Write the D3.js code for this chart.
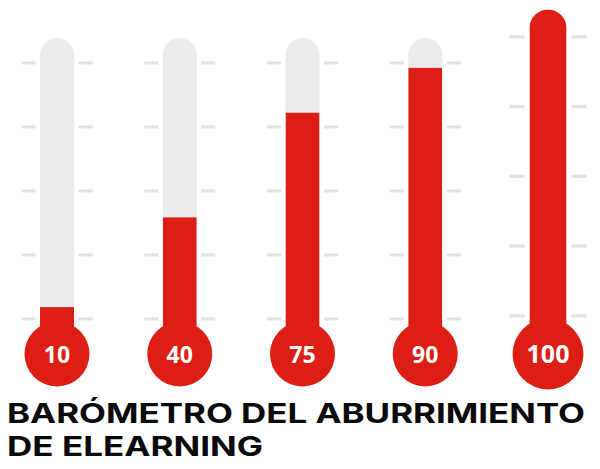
<!DOCTYPE html>
<html>
<head>
<meta charset="utf-8">
<script src="https://cdn.jsdelivr.net/npm/d3@7"></script>
<style>
  html, body { margin: 0; padding: 0; background: #ffffff; }
  svg { display: block; }
</style>
</head>
<body>
<script>
// ---- data ----
const categories = ["T1", "T2", "T3", "T4", "T5"];
const values = [10, 40, 75, 90, 100];
const valueLabels = ["10", "40", "75", "90", "100"];
const gradations = [1, 2, 3, 4, 5];
const titleLines = ["BARÓMETRO DEL ABURRIMIENTO", "DE ELEARNING"];

// ---- layout ----
const W = 600, H = 469;
const RED = "#dc1e14", GREY = "#ececec", TICK = "#e2e2e2";
const tubeTop = 38, bulbY = 354, bulbR = 32.5, tubeHalf = 17;

const svg = d3.select("body").append("svg").attr("width", W).attr("height", H);
const defs = svg.append("defs");

const x = d3.scalePoint().domain(categories).range([57, 548]);
const y = d3.scaleLinear().domain([0, 100]).range([337, 38]);
const gy = d3.scaleLinear().domain([1, 5]).range([319, 63]);
const maxV = d3.max(values);

const data = categories.map((c, i) => ({ c, v: values[i], label: valueLabels[i], i }));

const g = svg.selectAll("g.thermo").data(data).join("g")
  .attr("class", "thermo")
  .attr("transform", d => {
    const s = d.v >= maxV ? 1.09 : 1;
    return `translate(${x(d.c)},${bulbY}) scale(${s}) translate(0,${-bulbY})`;
  });

// graduation ticks
g.each(function () {
  const gg = d3.select(this);
  [-1, 1].forEach(side => {
    gg.selectAll(null).data(gradations).join("line")
      .attr("x1", side * 21.5).attr("x2", side * 35.5)
      .attr("y1", d => gy(d)).attr("y2", d => gy(d))
      .attr("stroke", TICK).attr("stroke-width", 3);
  });
});

// clip paths for tubes
data.forEach(d => {
  defs.append("clipPath").attr("id", "clip" + d.i)
    .append("rect")
    .attr("x", -tubeHalf).attr("y", tubeTop)
    .attr("width", tubeHalf * 2).attr("height", bulbY - tubeTop)
    .attr("rx", tubeHalf).attr("ry", tubeHalf);
});

// grey tube
g.append("rect")
  .attr("x", -tubeHalf).attr("y", tubeTop)
  .attr("width", tubeHalf * 2).attr("height", bulbY - tubeTop)
  .attr("rx", tubeHalf).attr("ry", tubeHalf)
  .attr("fill", GREY);

// red fill
g.append("rect")
  .attr("clip-path", d => `url(#clip${d.i})`)
  .attr("x", -tubeHalf).attr("y", d => y(d.v))
  .attr("width", tubeHalf * 2).attr("height", d => bulbY - y(d.v))
  .attr("fill", RED);

// bulb
g.append("circle").attr("cx", 0).attr("cy", bulbY).attr("r", bulbR).attr("fill", RED);

// value label
g.append("text")
  .attr("x", 0).attr("y", bulbY + 8.5)
  .attr("text-anchor", "middle")
  .attr("font-family", "'Open Sans', sans-serif")
  .attr("font-weight", 700)
  .attr("font-size", 23)
  .attr("fill", "#ffffff")
  .text(d => d.label);

// title (one text element, two lines)
const titleY = [423, 456];
const titleLen = [578, 256];
const title = svg.append("text")
  .attr("font-family", "Inter, 'Open Sans', sans-serif")
  .attr("font-weight", 700)
  .attr("font-size", 27)
  .attr("fill", "#0a0a0a");
title.selectAll("tspan").data(titleLines).join("tspan")
  .attr("x", 7).attr("y", (d, i) => titleY[i])
  .attr("textLength", (d, i) => titleLen[i])
  .attr("lengthAdjust", "spacingAndGlyphs")
  .text(d => d);
</script>
</body>
</html>
